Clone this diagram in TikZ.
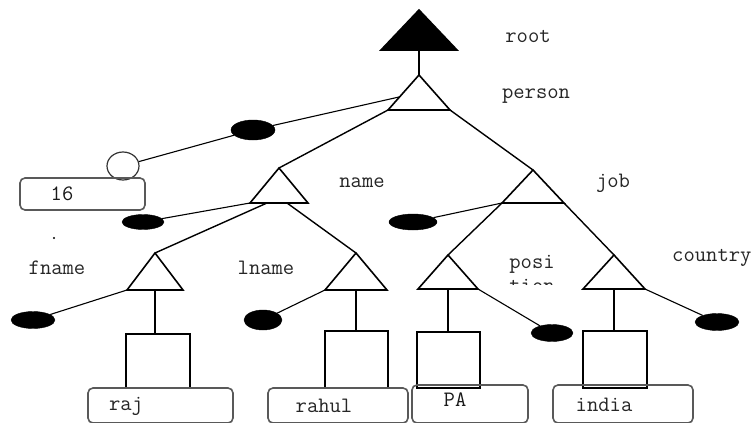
\documentclass[tikz,border=0pt]{standalone}
\usepackage{fontspec}
\setmainfont{Liberation Serif}
\usetikzlibrary{shapes.geometric}
\newcommand{\mktri}[5]{%
  \coordinate (#1A) at (#2,#3);
  \coordinate (#1L) at ({#2-#4},#5);
  \coordinate (#1R) at ({#2+#4},#5);
  \coordinate (#1B) at (#2,#5);}
\begin{document}
\begin{tikzpicture}[x=1pt,y=-1pt,
  tri/.style={draw=black, line width=1.6pt, line join=miter},
  conn/.style={draw=black, line width=1.1pt},
  blob/.style={ellipse, fill=black, draw=black, inner sep=0pt, minimum width=44pt, minimum height=17pt},
  hollow/.style={ellipse, draw=black!80, line width=1.2pt, inner sep=0pt, minimum width=32pt, minimum height=28pt},
  leafbox/.style={draw=black, line width=1.5pt, inner sep=0pt},
  valbox/.style={draw=black!65, line width=1.6pt, rounded corners=5pt, inner sep=0pt},
  lbl/.style={font=\ttfamily\fontsize{22}{22}\selectfont, text=black!85, inner sep=0pt},
  val/.style={font=\ttfamily\fontsize{22}{22}\selectfont, text=black!90, inner sep=0pt}
]
\clip (0,0) rectangle (755,423);
\fill[white] (0,0) rectangle (755,423);

% triangles
\mktri{root}{419}{10}{38}{50}
\mktri{person}{419}{75}{31}{110}
\mktri{name}{279}{168}{29}{203}
\mktri{job}{533}{170}{31}{203}
\mktri{fname}{155}{253}{28}{290}
\mktri{lname}{356}{253}{31}{290}
\mktri{posi}{448}{255}{30}{289}
\mktri{country}{614}{255}{31}{289}

\filldraw[tri, fill=black] (rootA) -- (rootL) -- (rootR) -- cycle;
\foreach \t in {person,name,job,fname,lname,posi,country}
  \draw[tri] (\t A) -- (\t L) -- (\t R) -- cycle;

% extra attachment points
\coordinate (personLs) at (399,97);
\coordinate (nameF) at (267,203);
\coordinate (nameLn) at (287,203);

% blobs and circle
\node[blob, minimum height=20pt] (b1) at (253,130) {};
\node[hollow] (c16) at (123,166) {};
\node[blob, minimum width=42pt, minimum height=15pt] (b2) at (143,222) {};
\node[blob, minimum width=48pt, minimum height=16pt] (b3) at (413,222) {};
\node[blob] (b4) at (33,320) {};
\node[blob, minimum width=38pt, minimum height=20pt] (b5) at (263,320) {};
\node[blob, minimum width=42pt] (b6) at (552,333) {};
\node[blob] (b7) at (717,322) {};
\fill (54,238) circle (1.2pt);

% leaf rectangles
\node[leafbox, minimum width=64pt, minimum height=54pt] (r1) at (158,361) {};
\node[leafbox, minimum width=63pt, minimum height=57pt] (r2) at (356.5,359.5) {};
\node[leafbox, minimum width=63pt, minimum height=56pt] (r3) at (448.5,360) {};
\node[leafbox, minimum width=64pt, minimum height=57pt] (r4) at (615,359.5) {};

% value boxes
\node[valbox, minimum width=125pt, minimum height=32pt] (v16) at (82.5,194) {};
\node[valbox, minimum width=145pt, minimum height=35pt] (v1) at (160.5,405.5) {};
\node[valbox, minimum width=140pt, minimum height=35pt] (v2) at (338,405.5) {};
\node[valbox, minimum width=116pt, minimum height=38pt] (v3) at (470,404) {};
\node[valbox, minimum width=140pt, minimum height=38pt] (v4) at (623,404) {};

% connectors
\draw[line width=2pt] (rootB) -- (personA);
\draw[conn] (personLs) -- (b1);
\draw[conn] (b1) -- (c16);
\draw[conn, line width=1.4pt] (personL) -- (nameA);
\draw[conn, line width=1.4pt] (personR) -- (jobA);
\draw[conn] (nameL) -- (b2);
\draw[conn, line width=1.4pt] (nameF) -- (fnameA);
\draw[conn, line width=1.4pt] (nameLn) -- (lnameA);
\draw[conn] (jobL) -- (b3);
\draw[conn, line width=1.4pt] (jobL) -- (posiA);
\draw[conn, line width=1.4pt] (jobR) -- (countryA);
\draw[conn] (fnameL) -- (b4);
\draw[conn] (lnameL) -- (b5);
\draw[conn] (posiR) -- (b6);
\draw[conn] (countryR) -- (b7);
\draw[tri] (fnameB) -- (fnameB |- r1.north);
\draw[tri] (lnameB) -- (lnameB |- r2.north);
\draw[tri] (posiB) -- (posiB |- r3.north);
\draw[tri] (countryB) -- (countryB |- r4.north);

% labels
\node[lbl] (troot) at (528,36) {root};
\node[lbl] (tperson) at (536,96) {person};
\node[lbl] (tname) at (362,183) {name};
\node[lbl] (tjob) at (613,183) {job};
\node[lbl] (tfname) at (57,268) {fname};
\node[lbl] (tlname) at (266,268) {lname};
\node[lbl, anchor=west] (tcountry) at (672,258) {country};
\node[lbl] (tposi) at (532,264) {posi};
\begin{scope}
  \clip (480,276) rectangle (570,284);
  \node[lbl] (ttion) at (532,286) {tion};
\end{scope}

% values
\node[val] (t16) at (62,194) {16};
\node[lbl] (traj) at (126,406) {raj};
\node[lbl] (trahul) at (324,406) {rahul};
\node[val] (tpa) at (455,400) {PA};
\node[lbl] (tindia) at (604,405) {india};
\end{tikzpicture}
\end{document}
